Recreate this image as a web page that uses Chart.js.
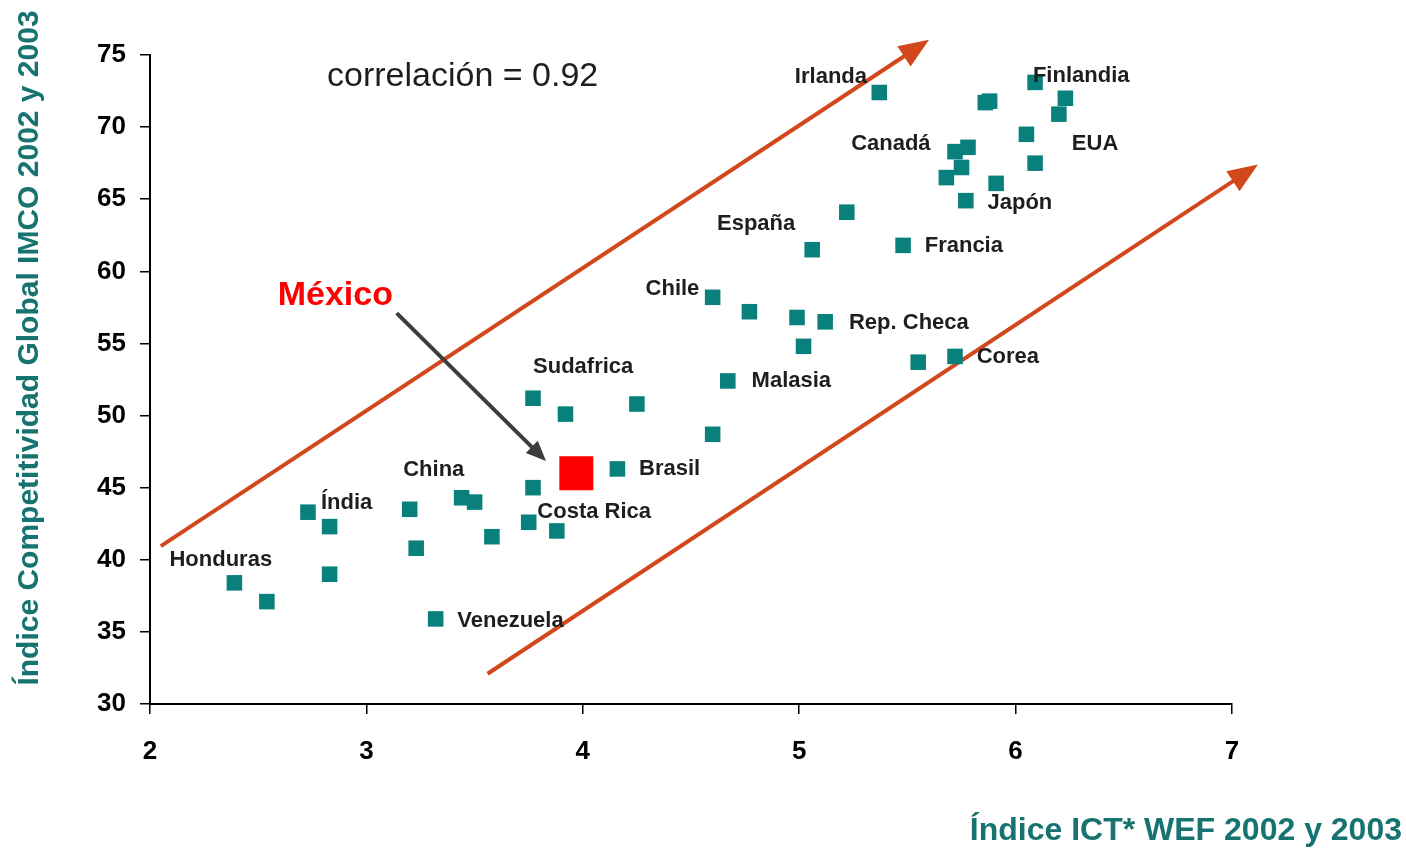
<!DOCTYPE html>
<html lang="es">
<head>
<meta charset="utf-8">
<title>ICT vs Competitividad</title>
<script src="https://cdn.jsdelivr.net/npm/chart.js@4.4.1/dist/chart.umd.min.js"></script>
<style>
  html, body { margin: 0; padding: 0; background: #fff; }
  #wrap { width: 1406px; height: 848px; position: relative; }
</style>
</head>
<body>
<div id="wrap"><canvas id="chart"></canvas></div>
<script>
// ── Datos: Índice ICT (x) vs Índice IMCO (y) ──
const ictX = [
  2.39, 2.54, 2.73, 2.83, 2.83, 3.20, 3.23, 3.32, 3.44, 3.50, 3.58, 3.77, 3.75, 3.88,
  4.16, 3.77, 3.92, 4.25, 4.60, 4.67, 4.60, 4.77, 4.99, 5.12, 5.02, 5.55, 5.72,
  5.37, 5.86, 5.88, 6.09, 6.23, 6.20, 6.05, 6.09, 5.78, 5.72, 5.75, 5.68, 5.91, 5.77, 5.22, 5.06, 5.48
];
const imcoY = [
  38.4, 37.1, 43.3, 42.3, 39.0, 43.5, 40.8, 35.9, 44.3, 44.0, 41.6, 45.0, 42.6, 42.0,
  46.3, 51.2, 50.1, 50.8, 48.7, 52.4, 58.2, 57.2, 56.8, 56.5, 54.8, 53.7, 54.1,
  72.4, 71.7, 71.8, 73.1, 72.0, 70.9, 69.5, 67.5, 68.6, 68.3, 67.2, 66.5, 66.1, 64.9, 64.1, 61.5, 61.8
];
const mexicoX = [3.97];
const mexicoY = [46.0];

// etiquetas de países (ancla izquierda, centro vertical)
const labelNames = ['Irlanda', 'Finlandia', 'Canadá', 'EUA', 'Japón', 'España', 'Francia', 'Chile',
  'Rep. Checa', 'Corea', 'Sudafrica', 'Malasia', 'Brasil', 'China', 'Índia', 'Costa Rica', 'Honduras', 'Venezuela'];
const labelX = [4.98, 6.08, 5.24, 6.26, 5.87, 4.62, 5.58, 4.29, 5.23, 5.82, 3.77, 4.78, 4.26, 3.17, 2.79, 3.79, 2.09, 3.42];
const labelY = [73.5, 73.55, 68.8, 68.8, 64.75, 63.3, 61.75, 58.8, 56.4, 54.05, 53.4, 52.4, 46.3, 46.25, 43.95, 43.3, 40.0, 35.75];

// flechas de tendencia [x0, y0, x1, y1]
const bandArrows = [[2.05, 40.95, 5.60, 76.05], [3.56, 32.1, 7.12, 67.4]];
const mexicoArrow = [3.14, 57.1, 3.83, 46.85];

const xTicks = [2, 3, 4, 5, 6, 7];
const yTicks = [30, 35, 40, 45, 50, 55, 60, 65, 70, 75];

const TEAL = '#0a807c';
const TITLE = '#167370';

Chart.defaults.font.family = "'Liberation Sans', Arial, sans-serif";

function arrow(ctx, x0, y0, x1, y1, color, width, headLen, headW) {
  const ang = Math.atan2(y1 - y0, x1 - x0);
  const bx = x1 - headLen * Math.cos(ang);
  const by = y1 - headLen * Math.sin(ang);
  ctx.save();
  ctx.strokeStyle = color;
  ctx.fillStyle = color;
  ctx.lineWidth = width;
  ctx.beginPath();
  ctx.moveTo(x0, y0);
  ctx.lineTo(bx + 2 * Math.cos(ang), by + 2 * Math.sin(ang));
  ctx.stroke();
  ctx.beginPath();
  ctx.moveTo(x1, y1);
  ctx.lineTo(bx - headW / 2 * Math.sin(ang), by + headW / 2 * Math.cos(ang));
  ctx.lineTo(bx + headW / 2 * Math.sin(ang), by - headW / 2 * Math.cos(ang));
  ctx.closePath();
  ctx.fill();
  ctx.restore();
}

// ── Plugin: flechas, etiquetas y títulos ──
const extras = {
  id: 'extras',
  beforeDatasetsDraw(chart) {
    const { ctx, scales: { x, y } } = chart;
    bandArrows.forEach(a => {
      arrow(ctx, x.getPixelForValue(a[0]), y.getPixelForValue(a[1]),
        x.getPixelForValue(a[2]), y.getPixelForValue(a[3]), '#d2471b', 4, 30, 24);
    });
    const m = mexicoArrow;
    arrow(ctx, x.getPixelForValue(m[0]), y.getPixelForValue(m[1]),
      x.getPixelForValue(m[2]), y.getPixelForValue(m[3]), '#3d3d3d', 4, 20, 17);
  },
  afterDatasetsDraw(chart) {
    const { ctx, scales: { x, y } } = chart;
    ctx.save();
    ctx.textBaseline = 'middle';
    ctx.textAlign = 'left';
    ctx.fillStyle = '#1e1e1e';
    ctx.font = "bold 22px 'Liberation Sans', Arial, sans-serif";
    labelNames.forEach((t, i) => {
      ctx.fillText(t, x.getPixelForValue(labelX[i]), y.getPixelForValue(labelY[i]));
    });
    // México
    ctx.fillStyle = '#ff0000';
    ctx.font = "bold 34px 'Liberation Sans', Arial, sans-serif";
    ctx.fillText('México', x.getPixelForValue(2.59), y.getPixelForValue(58.3));
    // correlación
    ctx.fillStyle = '#1e1e1e';
    ctx.font = "34px 'Liberation Sans', Arial, sans-serif";
    ctx.fillText('correlación = 0.92', 327, 77);
    // títulos de ejes
    ctx.fillStyle = TITLE;
    ctx.font = "bold 32px 'Liberation Sans', Arial, sans-serif";
    ctx.textAlign = 'right';
    ctx.fillText('Índice ICT* WEF 2002 y 2003', 1402, 831);
    ctx.translate(30, 348);
    ctx.rotate(-Math.PI / 2);
    ctx.textAlign = 'center';
    ctx.font = "bold 30px 'Liberation Sans', Arial, sans-serif";
    ctx.fillText('Índice Competitividad Global IMCO 2002 y 2003', 0, 0);
    ctx.restore();
  }
};

new Chart(document.getElementById('chart'), {
  type: 'scatter',
  data: {
    datasets: [
      {
        label: 'Países',
        data: ictX.map((v, i) => ({ x: v, y: imcoY[i] })),
        pointStyle: 'rect',
        pointRadius: 11,
        backgroundColor: TEAL,
        borderColor: TEAL,
        borderWidth: 0
      },
      {
        label: 'México',
        data: mexicoX.map((v, i) => ({ x: v, y: mexicoY[i] })),
        pointStyle: 'rect',
        pointRadius: 24,
        backgroundColor: '#ff0000',
        borderColor: '#ff0000',
        borderWidth: 0
      }
    ]
  },
  options: {
    responsive: true,
    maintainAspectRatio: false,
    animation: false,
    layout: { padding: { top: 55, right: 174, left: 0, bottom: 0 } },
    plugins: { legend: { display: false }, tooltip: { enabled: false } },
    scales: {
      x: {
        type: 'linear',
        min: 2, max: 7,
        afterBuildTicks: s => { s.ticks = xTicks.map(v => ({ value: v })); },
        afterFit: s => { s.height = 144; },
        ticks: { color: '#000', padding: 22, font: { size: 26, weight: 'bold' } },
        grid: { drawOnChartArea: false, drawTicks: true, tickLength: 10, color: '#000', lineWidth: 1.5 },
        border: { color: '#000', width: 2 }
      },
      y: {
        type: 'linear',
        min: 30, max: 75,
        afterBuildTicks: s => { s.ticks = yTicks.map(v => ({ value: v })); },
        afterFit: s => { s.width = 150; },
        ticks: { color: '#000', padding: 14, font: { size: 26, weight: 'bold' } },
        grid: { drawOnChartArea: false, drawTicks: true, tickLength: 10, color: '#000', lineWidth: 1.5 },
        border: { color: '#000', width: 2 }
      }
    }
  },
  plugins: [extras]
});
</script>
</body>
</html>
